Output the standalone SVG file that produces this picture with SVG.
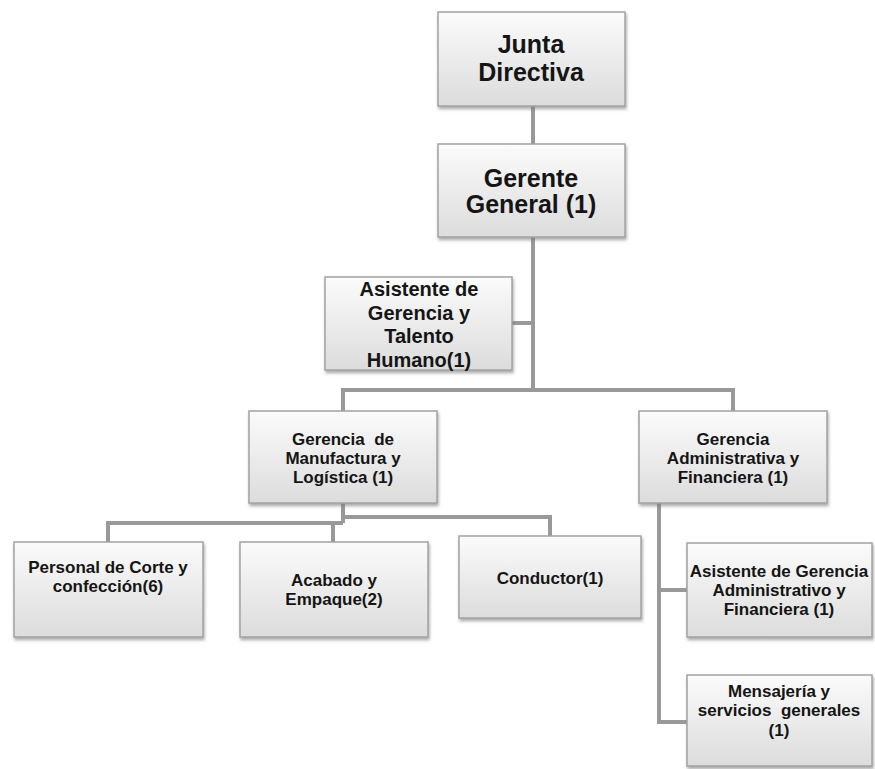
<svg xmlns="http://www.w3.org/2000/svg" width="875" height="769" viewBox="0 0 875 769">
<defs>
<linearGradient id="g" x1="0" y1="0" x2="0" y2="1">
<stop offset="0" stop-color="#fbfbfb"/>
<stop offset="1" stop-color="#dcdcdc"/>
</linearGradient>
<filter id="sh" x="-10%" y="-10%" width="125%" height="130%">
<feDropShadow dx="1" dy="2.5" stdDeviation="1.6" flood-color="#777" flood-opacity="0.6"/>
</filter>
</defs>
<style>
.box{fill:url(#g);stroke:#a3a3a3;stroke-width:1.5;filter:url(#sh)}
.t{font-family:"Liberation Sans",Arial,sans-serif;font-weight:bold;fill:#151515;text-anchor:middle}
.big{font-size:25px}
.mid{font-size:20px}
.sm{font-size:17px}
.c{fill:none;stroke:#999;stroke-width:4}
</style>
<rect width="875" height="769" fill="#fff"/>
<g id="connectors">
<path class="c" d="M533,106 V144"/>
<path class="c" d="M533,237 V390"/>
<path class="c" d="M512,323 H533"/>
<path class="c" d="M343,411 V390 H733 V411"/>
<path class="c" d="M343,503 V523"/>
<path class="c" d="M108,542 V523 H343"/>
<path class="c" d="M333,523 V542"/>
<path class="c" d="M343,517 H550 V536"/>
<path class="c" d="M687,722 H659 V503"/>
<path class="c" d="M659,590 H687"/>
</g>
<g id="junta">
<rect class="box" x="438" y="12" width="187" height="94"/>
<text class="t big" x="531" y="53">Junta</text>
<text class="t big" x="531" y="81">Directiva</text>
</g>
<g id="gerente">
<rect class="box" x="438" y="144" width="187" height="93"/>
<text class="t big" x="531" y="187">Gerente</text>
<text class="t big" x="531" y="213">General (1)</text>
</g>
<g id="asistente">
<rect class="box" x="325" y="277" width="187" height="93"/>
<text class="t mid" x="419" y="296">Asistente de</text>
<text class="t mid" x="419" y="320">Gerencia y</text>
<text class="t mid" x="419" y="343">Talento</text>
<text class="t mid" x="419" y="367">Humano(1)</text>
</g>
<g id="manufactura">
<rect class="box" x="249" y="411" width="188" height="92"/>
<text class="t sm" x="343" y="445" xml:space="preserve">Gerencia  de</text>
<text class="t sm" x="343" y="464">Manufactura y</text>
<text class="t sm" x="343" y="483">Logística (1)</text>
</g>
<g id="administrativa">
<rect class="box" x="639" y="411" width="188" height="92"/>
<text class="t sm" x="733" y="445">Gerencia</text>
<text class="t sm" x="733" y="464">Administrativa y</text>
<text class="t sm" x="733" y="483">Financiera (1)</text>
</g>
<g id="personal">
<rect class="box" x="14" y="542" width="189" height="95"/>
<text class="t sm" x="108" y="573">Personal de Corte y</text>
<text class="t sm" x="108" y="592">confección(6)</text>
</g>
<g id="acabado">
<rect class="box" x="240" y="542" width="188" height="95"/>
<text class="t sm" x="334" y="586">Acabado y</text>
<text class="t sm" x="334" y="605">Empaque(2)</text>
</g>
<g id="conductor">
<rect class="box" x="459" y="536" width="182" height="82"/>
<text class="t sm" x="550" y="584">Conductor(1)</text>
</g>
<g id="asistente-admin">
<rect class="box" x="687" y="543" width="185" height="94"/>
<text class="t sm" x="779" y="577">Asistente de Gerencia</text>
<text class="t sm" x="779" y="596">Administrativo y</text>
<text class="t sm" x="779" y="615">Financiera (1)</text>
</g>
<g id="mensajeria">
<rect class="box" x="687" y="675" width="185" height="91"/>
<text class="t sm" x="779" y="697">Mensajería y</text>
<text class="t sm" x="779" y="716" xml:space="preserve">servicios  generales</text>
<text class="t sm" x="779" y="736">(1)</text>
</g>
</svg>
